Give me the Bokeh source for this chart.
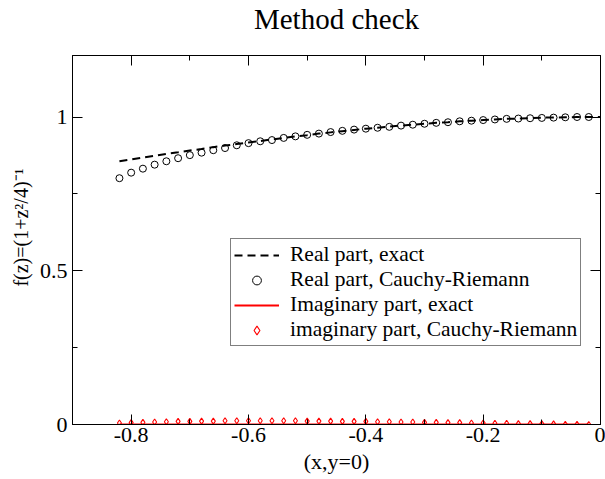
from bokeh.plotting import figure
from bokeh.models import LinearAxis, FixedTicker, Legend, LegendItem
from bokeh.embed import file_html
from bokeh.resources import INLINE

# ---- data ----
x_exact = [-0.82, -0.80, -0.78, -0.76, -0.74, -0.72, -0.70, -0.68, -0.66, -0.64,
           -0.62, -0.60, -0.58, -0.56, -0.54, -0.52, -0.50, -0.48, -0.46, -0.44,
           -0.42, -0.40, -0.38, -0.36, -0.34, -0.32, -0.30, -0.28, -0.26, -0.24,
           -0.22, -0.20, -0.18, -0.16, -0.14, -0.12, -0.10, -0.08, -0.06, -0.04,
           -0.02, 0.0]
re_exact = [0.856, 0.862, 0.868, 0.874, 0.880, 0.885, 0.891, 0.896, 0.902, 0.907,
            0.912, 0.917, 0.922, 0.927, 0.932, 0.937, 0.941, 0.946, 0.950, 0.954,
            0.958, 0.962, 0.965, 0.969, 0.972, 0.975, 0.978, 0.981, 0.983, 0.986,
            0.988, 0.990, 0.992, 0.994, 0.995, 0.996, 0.998, 0.998, 0.999, 1.000,
            1.000, 1.000]

x_cr = [-0.82, -0.80, -0.78, -0.76, -0.74, -0.72, -0.70, -0.68, -0.66, -0.64,
        -0.62, -0.60, -0.58, -0.56, -0.54, -0.52, -0.50, -0.48, -0.46, -0.44,
        -0.42, -0.40, -0.38, -0.36, -0.34, -0.32, -0.30, -0.28, -0.26, -0.24,
        -0.22, -0.20, -0.18, -0.16, -0.14, -0.12, -0.10, -0.08, -0.06, -0.04,
        -0.02]
re_cr = [0.801, 0.819, 0.832, 0.845, 0.856, 0.866, 0.876, 0.884, 0.892, 0.899,
         0.908, 0.915, 0.921, 0.925, 0.932, 0.937, 0.942, 0.946, 0.951, 0.955,
         0.959, 0.962, 0.965, 0.968, 0.972, 0.975, 0.978, 0.981, 0.983, 0.986,
         0.988, 0.990, 0.992, 0.994, 0.995, 0.996, 0.997, 0.998, 0.999, 1.000,
         1.000]
im_cr = [0.005, 0.006, 0.007, 0.008, 0.009, 0.010, 0.010, 0.011, 0.011, 0.012,
         0.012, 0.012, 0.012, 0.012, 0.012, 0.012, 0.011, 0.011, 0.011, 0.010,
         0.010, 0.010, 0.009, 0.009, 0.008, 0.008, 0.007, 0.007, 0.006, 0.006,
         0.005, 0.005, 0.004, 0.004, 0.003, 0.003, 0.002, 0.002, 0.001, 0.001,
         0.000]
x_im_exact = [-0.82, -0.02]
im_exact = [0.0, 0.0]

x_major = [-0.8, -0.6, -0.4, -0.2, 0.0]
x_minor = [-0.9, -0.7, -0.5, -0.3, -0.1]
x_labels = {-0.8: "-0.8", -0.6: "-0.6", -0.4: "-0.4", -0.2: "-0.2", 0: "0"}
y_major = [0.0, 0.5, 1.0]
y_minor = [0.25, 0.75]
y_labels = {0: "0", 0.5: "0.5", 1: "1"}

FONT = "Liberation Serif"

p = figure(width=605, height=479, x_range=(-0.9, 0.0), y_range=(0.0, 1.2),
           output_backend="svg", toolbar_location=None,
           min_border_left=72, min_border_right=5, min_border_top=55,
           min_border_bottom=55, x_axis_location=None, y_axis_location=None)
p.grid.visible = False
p.outline_line_color = "black"
p.outline_line_width = 1
p.background_fill_color = "white"
p.border_fill_color = "white"

p.title.text = "Method check"
p.title.text_font = FONT
p.title.text_font_size = "29px"
p.title.text_font_style = "normal"
p.title.text_color = "black"
p.title.align = "center"
p.title.vertical_align = "bottom"
p.title.standoff = 0
p.title.padding = dict(left=0, right=0, top=0, bottom=21)

def make_axis(ticks, minor, labels, show):
    ax = LinearAxis(ticker=FixedTicker(ticks=ticks, minor_ticks=minor))
    ax.major_tick_in = 10
    ax.major_tick_out = 0
    ax.minor_tick_in = 5
    ax.minor_tick_out = 0
    ax.axis_line_color = "black"
    ax.major_tick_line_color = "black"
    ax.minor_tick_line_color = "black"
    if show:
        ax.major_label_overrides = labels
        ax.major_label_text_font = FONT
        ax.major_label_text_font_size = "22px"
        ax.major_label_text_color = "black"
        ax.axis_label_text_font = FONT
        ax.axis_label_text_font_style = "normal"
        ax.axis_label_text_color = "black"
    else:
        ax.major_label_text_color = None
        ax.major_label_standoff = 0
    return ax

xb = make_axis(x_major, x_minor, x_labels, True)
xb.axis_label = "(x,y=0)"
xb.axis_label_text_font_size = "22px"
xb.major_label_standoff = 3
xb.axis_label_standoff = 4
p.add_layout(xb, "below")

yl = make_axis(y_major, y_minor, y_labels, True)
yl.axis_label = "\u00a0" * 5 + "f(z)=(1+z\u00b2/4)\u207b\u00b9"
yl.axis_label_text_font_size = "20px"
yl.major_label_standoff = 5
yl.axis_label_standoff = 5
p.add_layout(yl, "left")

p.add_layout(make_axis(x_major, x_minor, x_labels, False), "above")
p.add_layout(make_axis(y_major, y_minor, y_labels, False), "right")

r1 = p.line(x_exact, re_exact, line_color="black", line_width=2, line_dash="8 5")
r2 = p.scatter(x_cr, re_cr, marker="circle", size=7, fill_color=None,
               line_color="black", line_width=1)
r3 = p.line(x_im_exact, im_exact, line_color="red", line_width=2)
r4 = p.scatter(x_cr, im_cr, marker="diamond", size=6, fill_color=None,
               line_color="red", line_width=1.1)

legend = Legend(items=[
    LegendItem(label="Real part, exact", renderers=[r1]),
    LegendItem(label="Real part, Cauchy-Riemann", renderers=[r2]),
    LegendItem(label="Imaginary part, exact", renderers=[r3]),
    LegendItem(label="imaginary part, Cauchy-Riemann", renderers=[r4]),
], location=(158, 78))
legend.margin = 0
legend.padding = 3
legend.spacing = 0
legend.glyph_width = 45
legend.glyph_height = 22
legend.label_height = 22
legend.label_standoff = 11
legend.label_text_font = FONT
legend.label_text_font_size = "21.5px"
legend.label_text_color = "black"
legend.border_line_color = "black"
legend.border_line_width = 1
legend.background_fill_color = "white"
legend.background_fill_alpha = 1
p.add_layout(legend, "center")

open("out.html", "w").write(file_html(p, INLINE))
